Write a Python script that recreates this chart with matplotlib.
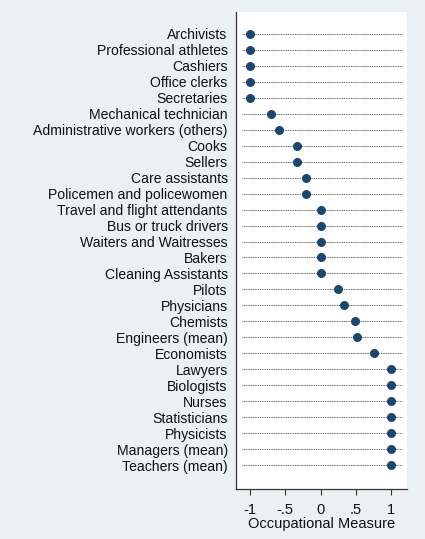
import matplotlib.pyplot as plt
import numpy as np

plt.rcParams["font.family"] = ["Liberation Sans", "DejaVu Sans"]

occupations = ["Archivists", "Professional athletes", "Cashiers", "Office clerks",
               "Secretaries", "Mechanical technician", "Administrative workers (others)",
               "Cooks", "Sellers", "Care assistants", "Policemen and policewomen",
               "Travel and flight attendants", "Bus or truck drivers",
               "Waiters and Waitresses", "Bakers", "Cleaning Assistants", "Pilots",
               "Physicians", "Chemists", "Engineers (mean)", "Economists", "Lawyers",
               "Biologists", "Nurses", "Statisticians", "Physicists",
               "Managers (mean)", "Teachers (mean)"]
measure = [-1.0, -1.0, -1.0, -1.0, -1.0, -0.71, -0.59, -0.34, -0.34, -0.2, -0.2,
           0.0, 0.0, 0.0, 0.0, 0.0, 0.25, 0.33, 0.49, 0.52, 0.76,
           1.0, 1.0, 1.0, 1.0, 1.0, 1.0, 1.0]
xticks = [-1, -0.5, 0, 0.5, 1]
xticklabels = ["-1", "-.5", "0", ".5", "1"]

bg = "#e9f1f3"
fig = plt.figure(figsize=(4.25, 5.39), dpi=100, facecolor=bg)
ax = fig.add_axes([0.5553, 0.0928, 0.4024, 0.885])
ax.set_facecolor("white")

ypos = np.arange(len(occupations))
for y in ypos:
    ax.plot([-1.12, 1.15], [y, y], linestyle=(0, (1, 0.8)), color="#606060", linewidth=0.7, zorder=1)
ax.scatter(measure, ypos, s=30, color="#1a476f", zorder=3)

ax.set_xlim(-1.2, 1.227)
ax.set_ylim(len(occupations) - 1 + 1.5, -1.38)
ax.set_yticks(ypos)
ax.set_yticklabels(occupations, fontsize=10.1, color="#111111")
ax.tick_params(axis="y", length=0, pad=6)
ax.set_xticks(xticks)
ax.set_xticklabels(xticklabels, fontsize=10.5, color="#111111")
ax.tick_params(axis="x", length=4, width=0.8, color="#333333", pad=6)
ax.set_xlabel("Occupational Measure", fontsize=10.5, color="#111111", labelpad=0)

for s in ["top", "right"]:
    ax.spines[s].set_visible(False)
for s in ["left", "bottom"]:
    ax.spines[s].set_color("#333333")
    ax.spines[s].set_linewidth(0.9)

fig.savefig("out.png", dpi=100, facecolor=bg)
